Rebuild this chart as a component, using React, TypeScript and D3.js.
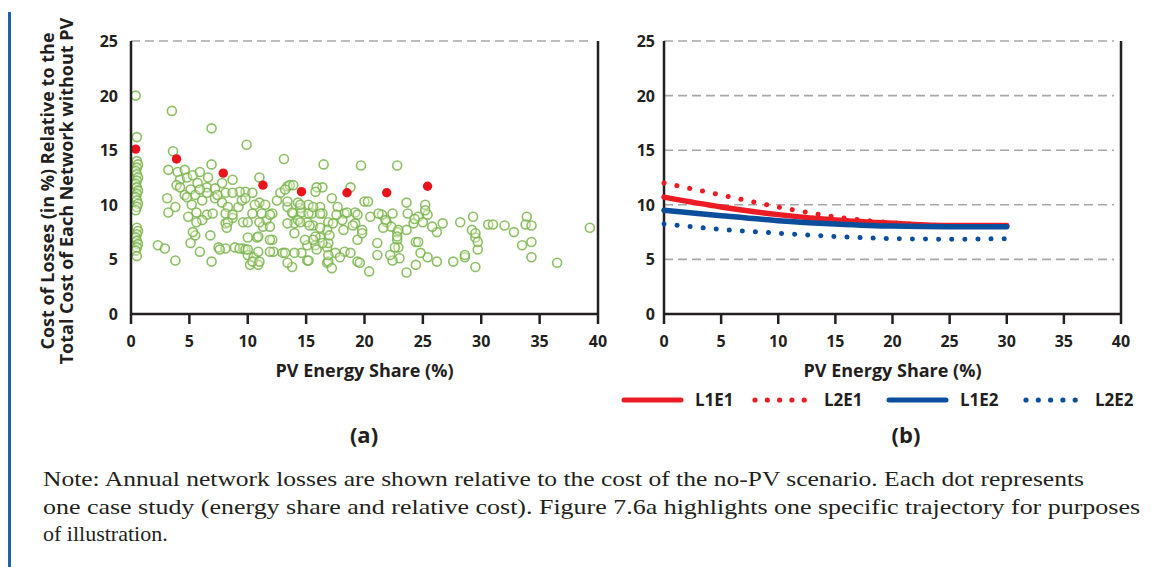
import React, { useRef, useEffect } from 'react';
import * as d3 from 'd3';

// PV energy share (%) vs relative cost of losses (%), one pair per case study
const caseStudies: [number, number][] = [
  [0.4, 20.0], [0.5, 16.2], [0.5, 14.0], [0.6, 13.7], [0.5, 13.4], [0.4, 13.1], [0.5, 12.8], [0.6, 12.5],
  [0.5, 12.2], [0.4, 11.9], [0.5, 11.6], [0.6, 11.3], [0.5, 11.0], [0.4, 10.7], [0.5, 10.4], [0.6, 10.1],
  [0.5, 9.8], [0.4, 9.5], [0.5, 7.9], [0.6, 7.6], [0.5, 7.3], [0.4, 7.0], [0.5, 6.7], [0.6, 6.4],
  [0.5, 6.1], [0.4, 5.8], [0.5, 5.3],
  [3.5, 18.6], [6.9, 17.0], [9.9, 15.5], [13.1, 14.2], [3.6, 14.9], [6.9, 13.7], [16.5, 13.7], [19.7, 13.6],
  [22.8, 13.6], [11.0, 12.5], [16.4, 11.6], [18.8, 11.6], [13.4, 11.7], [17.2, 10.6],
  [3.2, 13.2], [4.0, 13.0], [4.6, 13.2], [4.2, 12.3], [3.9, 11.8], [4.8, 12.5], [5.3, 12.7], [5.9, 13.0],
  [6.6, 12.5], [6.5, 11.6], [5.7, 12.0], [5.1, 11.4], [4.6, 10.9], [5.5, 10.9], [6.1, 10.4], [5.2, 10.0],
  [5.6, 9.3], [4.9, 8.9], [3.1, 10.6], [3.2, 9.3], [3.8, 9.8], [7.2, 11.5], [7.8, 12.0], [8.7, 12.3],
  [8.1, 11.1], [7.2, 10.6], [6.5, 11.1], [7.8, 10.2], [8.3, 9.8], [9.2, 9.8], [8.1, 9.2], [8.7, 8.8],
  [8.1, 8.3], [9.6, 8.4], [9.8, 11.2], [9.5, 10.4], [6.5, 9.1], [6.1, 8.6], [5.5, 7.2], [6.8, 7.2],
  [5.1, 6.5], [7.5, 6.1], [8.1, 6.0], [8.9, 6.1], [9.6, 6.0], [2.3, 6.3], [2.9, 6.0], [3.8, 4.9],
  [6.9, 4.8], [5.9, 5.7], [10.0, 7.0],
  [4.2, 11.6], [4.8, 10.7], [5.6, 8.4], [5.3, 7.5], [7.0, 9.2], [7.6, 5.9], [9.3, 6.0], [9.8, 5.9],
  [10.2, 4.5], [10.9, 4.5], [10.8, 7.0], [11.3, 8.0], [11.6, 8.6], [12.1, 6.8], [12.2, 5.7], [13.0, 5.6],
  [13.8, 4.3], [14.6, 5.6], [15.1, 4.9], [10.0, 5.4], [10.5, 5.2], [8.3, 8.4], [8.2, 7.9], [8.7, 9.1],
  [9.3, 11.2], [10.4, 11.1], [11.0, 10.2], [8.7, 11.1], [7.4, 10.9], [5.9, 11.4], [13.4, 9.8], [13.9, 9.2],
  [14.5, 9.7], [14.0, 8.3], [13.6, 11.8], [16.2, 9.8], [15.9, 11.6], [15.6, 8.1], [16.2, 7.0], [16.8, 6.1],
  [16.8, 4.7], [15.1, 6.3], [12.5, 10.4], [12.1, 9.2], [12.8, 11.1],
  [9.8, 10.6], [10.6, 10.0], [11.5, 10.0], [10.4, 9.2], [11.2, 9.2], [11.9, 9.1], [10.0, 8.4], [11.0, 8.4],
  [11.9, 8.0], [10.9, 7.1], [11.9, 6.8], [10.0, 5.9], [10.9, 5.7], [11.9, 5.7], [10.4, 4.8], [11.0, 4.8],
  [13.2, 5.6], [14.0, 5.6], [13.4, 4.7], [13.2, 11.4], [13.9, 11.8], [15.8, 11.2], [13.4, 10.3], [14.3, 10.2],
  [15.2, 10.0], [13.8, 9.3], [14.6, 9.3], [15.5, 9.2], [16.4, 9.2], [14.3, 8.6], [15.1, 8.4], [13.4, 8.3],
  [16.9, 8.4], [16.8, 7.7], [15.8, 7.1], [14.0, 7.4], [16.9, 6.5], [15.8, 6.3], [17.5, 5.6], [18.3, 5.7],
  [16.9, 4.8], [17.7, 9.8], [18.3, 9.2], [19.2, 9.3], [18.1, 8.6], [19.2, 8.3], [19.8, 7.7], [20.0, 10.3],
  [19.4, 4.8], [19.4, 6.8],
  [29.3, 8.9], [30.6, 8.2], [28.2, 8.4], [29.2, 7.7], [29.5, 7.0], [29.7, 5.9], [29.5, 4.3], [28.6, 5.2],
  [27.6, 4.8], [26.2, 4.8], [25.4, 5.2], [24.8, 5.6], [24.4, 6.6], [23.6, 3.8], [24.4, 4.5], [23.0, 5.1],
  [22.4, 4.9], [22.2, 5.4], [21.1, 5.4], [21.1, 6.5], [20.4, 3.9], [19.6, 4.7], [18.8, 5.6], [17.9, 5.2],
  [17.2, 4.2], [16.9, 5.4], [15.9, 5.9], [15.2, 4.9], [16.4, 6.5], [17.0, 7.2], [15.6, 6.8], [14.5, 8.4],
  [15.3, 8.1], [16.2, 7.9], [17.3, 8.3], [18.2, 7.7], [19.0, 8.1], [19.8, 7.4], [17.6, 9.1], [18.5, 9.3],
  [19.4, 9.1], [20.3, 10.3], [20.5, 8.9], [21.5, 9.1], [21.9, 8.4], [22.4, 9.2], [22.8, 7.5], [22.8, 6.8],
  [22.9, 6.1], [23.6, 10.2], [23.6, 7.7], [24.2, 8.3], [24.6, 8.9], [25.2, 10.0], [25.4, 9.1], [26.2, 7.5],
  [26.7, 8.3], [14.5, 10.0], [15.2, 9.2], [16.2, 9.2], [15.6, 9.8], [14.9, 6.8],
  [21.2, 9.2], [21.8, 8.6], [22.3, 8.0], [22.9, 7.7], [21.6, 7.9], [23.7, 9.2], [24.3, 8.7], [25.0, 8.4],
  [25.8, 8.0], [25.2, 9.5], [24.6, 6.6], [22.6, 6.1], [22.8, 7.1], [28.6, 5.4], [29.5, 7.4], [29.7, 6.6],
  [31.0, 8.2], [32.0, 8.1], [32.8, 7.5], [33.9, 8.9], [33.8, 8.2], [34.3, 8.1], [34.3, 6.6], [33.5, 6.3],
  [34.3, 5.2], [36.5, 4.7], [39.3, 7.9],
];

// highlighted trajectory (red dots)
const trajectory: [number, number][] = [
  [0.4, 15.1], [3.9, 14.2], [7.9, 12.9], [11.3, 11.8], [14.6, 11.2], [18.5, 11.1], [21.9, 11.1], [25.4, 11.7],
];

// panel (b) curves
const shareSteps = [0, 5, 10, 15, 20, 25, 30];
const l1e1 = [10.7, 9.8, 9.1, 8.6, 8.3, 8.1, 8.1];
const l2e1 = [12.0, 10.9, 9.8, 8.9, 8.35, 8.1, 8.05];
const l1e2 = [9.5, 9.0, 8.55, 8.25, 8.05, 8.0, 8.0];
const l2e2 = [8.25, 7.75, 7.4, 7.1, 6.9, 6.85, 6.9];

const xTicks = [0, 5, 10, 15, 20, 25, 30, 35, 40];
const yTicks = [0, 5, 10, 15, 20, 25];

const noteLines = [
  'Note: Annual network losses are shown relative to the cost of the no-PV scenario. Each dot represents',
  'one case study (energy share and relative cost). Figure 7.6a highlights one specific trajectory for purposes',
  'of illustration.',
];

const RED = '#ed1c24';
const BLUE = '#0b4f9c';
const INK = '#231f20';
const SANS = '"Open Sans", sans-serif';

const W = 1154;
const H = 567;

const App: React.FC = () => {
  const ref = useRef<SVGSVGElement | null>(null);

  useEffect(() => {
    if (!ref.current) return;
    const svg = d3.select<SVGSVGElement, unknown>(ref.current);
    svg.selectAll('*').remove();

    // blue margin rule
    svg.append('rect').attr('x', 8).attr('y', 12).attr('width', 3).attr('height', H - 12).attr('fill', '#2160b0');

    const y = d3.scaleLinear().domain([0, 25]).range([314, 41]);

    // shared frame for both panels
    const drawFrame = (x: d3.ScaleLinear<number, number>, grid: number[], labelGap: number) => {
      const [x0, x1] = x.range();
      const g = svg.append('g');
      g.selectAll('line.grid')
        .data(grid)
        .enter()
        .append('line')
        .attr('x1', x0)
        .attr('x2', x1 - 7)
        .attr('y1', d => y(d))
        .attr('y2', d => y(d))
        .attr('stroke', '#a7a7a7')
        .attr('stroke-width', 1.6)
        .attr('stroke-dasharray', '9 5');
      // axes and right border
      g.append('line').attr('x1', x0).attr('x2', x0).attr('y1', y(25)).attr('y2', y(0)).attr('stroke', INK).attr('stroke-width', 2.5);
      g.append('line').attr('x1', x1).attr('x2', x1).attr('y1', y(25)).attr('y2', y(0)).attr('stroke', INK).attr('stroke-width', 2.5);
      g.append('line').attr('x1', x0 - 1).attr('x2', x1 + 1).attr('y1', y(0)).attr('y2', y(0)).attr('stroke', INK).attr('stroke-width', 2.5);
      g.selectAll('line.tick')
        .data(xTicks)
        .enter()
        .append('line')
        .attr('x1', d => x(d))
        .attr('x2', d => x(d))
        .attr('y1', y(0))
        .attr('y2', y(0) + 10)
        .attr('stroke', INK)
        .attr('stroke-width', 2.5);
      g.selectAll('text.xt')
        .data(xTicks)
        .enter()
        .append('text')
        .attr('x', d => x(d))
        .attr('y', y(0) + 33)
        .attr('text-anchor', 'middle')
        .style('font-family', SANS)
        .style('font-weight', 700)
        .style('font-size', '16px')
        .attr('fill', INK)
        .text(d => d);
      g.selectAll('text.yt')
        .data(yTicks)
        .enter()
        .append('text')
        .attr('x', x0 - labelGap)
        .attr('y', d => y(d) + 6)
        .attr('text-anchor', 'end')
        .style('font-family', SANS)
        .style('font-weight', 700)
        .style('font-size', '16px')
        .attr('fill', INK)
        .text(d => d);
      g.append('text')
        .attr('x', (x0 + x1) / 2)
        .attr('y', 377)
        .attr('text-anchor', 'middle')
        .style('font-family', SANS)
        .style('font-weight', 700)
        .style('font-size', '18px')
        .attr('fill', INK)
        .text('PV Energy Share (%)');
      return g;
    };

    // panel (a)
    const xa = d3.scaleLinear().domain([0, 40]).range([131, 598]);
    const ga = svg.append('g');
    ga.selectAll('circle.case')
      .data(caseStudies)
      .enter()
      .append('circle')
      .attr('cx', d => xa(d[0]))
      .attr('cy', d => y(d[1]))
      .attr('r', 4.5)
      .attr('fill', 'rgba(250,252,225,0.35)')
      .attr('stroke', '#78b44e')
      .attr('stroke-opacity', 0.85)
      .attr('stroke-width', 1.6);
    ga.selectAll('circle.traj')
      .data(trajectory)
      .enter()
      .append('circle')
      .attr('cx', d => xa(d[0]))
      .attr('cy', d => y(d[1]))
      .attr('r', 4.7)
      .attr('fill', '#e8141b');
    drawFrame(xa, [25], 13);

    // y title for panel (a)
    const yt = svg.append('text')
      .attr('transform', 'translate(0,191) rotate(-90)')
      .attr('text-anchor', 'middle')
      .style('font-family', SANS)
      .style('font-weight', 700)
      .style('font-size', '18px')
      .attr('fill', INK);
    yt.append('tspan').attr('x', 0).attr('y', 54).text('Cost of Losses (in %) Relative to the');
    yt.append('tspan').attr('x', 0).attr('y', 73).text('Total Cost of Each Network without PV');

    // panel (b)
    const xb = d3.scaleLinear().domain([0, 40]).range([664, 1121]);
    drawFrame(xb, [5, 10, 15, 20, 25], 9);

    const curve = (vals: number[]) =>
      d3.line<number>()
        .x((_, i) => xb(shareSteps[i]))
        .y(d => y(d))
        .curve(d3.curveMonotoneX)(vals);

    const series = [
      { vals: l2e2, color: BLUE, dotted: true },
      { vals: l1e1, color: RED, dotted: false },
      { vals: l2e1, color: RED, dotted: true },
      { vals: l1e2, color: BLUE, dotted: false },
    ];
    series.forEach(s => {
      svg.append('path')
        .attr('d', curve(s.vals))
        .attr('fill', 'none')
        .attr('stroke', s.color)
        .attr('stroke-width', s.dotted ? 5 : 5.5)
        .attr('stroke-linecap', 'round')
        .attr('stroke-dasharray', s.dotted ? '0.1 13' : null);
    });

    // legend
    const legend = [
      { name: 'L1E1', color: RED, dotted: false, x: 624 },
      { name: 'L2E1', color: RED, dotted: true, x: 755 },
      { name: 'L1E2', color: BLUE, dotted: false, x: 889 },
      { name: 'L2E2', color: BLUE, dotted: true, x: 1026 },
    ];
    legend.forEach(l => {
      if (l.dotted) {
        svg.selectAll(null)
          .data(d3.range(5))
          .enter()
          .append('circle')
          .attr('cx', i => l.x + i * 12.3)
          .attr('cy', 400)
          .attr('r', 2.6)
          .attr('fill', l.color);
      } else {
        svg.append('line')
          .attr('x1', l.x)
          .attr('x2', l.x + 57)
          .attr('y1', 400)
          .attr('y2', 400)
          .attr('stroke', l.color)
          .attr('stroke-width', 5)
          .attr('stroke-linecap', 'round');
      }
      svg.append('text')
        .attr('x', l.dotted ? l.x + 69 : l.x + 71)
        .attr('y', 406)
        .style('font-family', SANS)
        .style('font-weight', 700)
        .style('font-size', '17px')
        .attr('fill', INK)
        .text(l.name);
    });

    // panel captions
    [['(a)', 364], ['(b)', 906]].forEach(([t, cx]) => {
      svg.append('text')
        .attr('x', cx as number)
        .attr('y', 443)
        .attr('text-anchor', 'middle')
        .style('font-family', SANS)
        .style('font-weight', 700)
        .style('font-size', '22px')
        .attr('fill', INK)
        .text(t as string);
    });

    // note
    const widths = [1041, 1097, 0];
    noteLines.forEach((line, i) => {
      const t = svg.append('text')
        .attr('x', 43)
        .attr('y', 486 + i * 27.5)
        .style('font-family', '"Liberation Serif", serif')
        .style('font-size', '22px')
        .attr('fill', INK)
        .text(line);
      if (widths[i]) t.attr('textLength', widths[i]).attr('lengthAdjust', 'spacingAndGlyphs');
    });
  }, []);

  return (
    <div style={{ position: 'absolute', left: 0, top: 0, background: '#fff' }}>
      <svg ref={ref} width={W} height={H} />
    </div>
  );
};

export default App;
